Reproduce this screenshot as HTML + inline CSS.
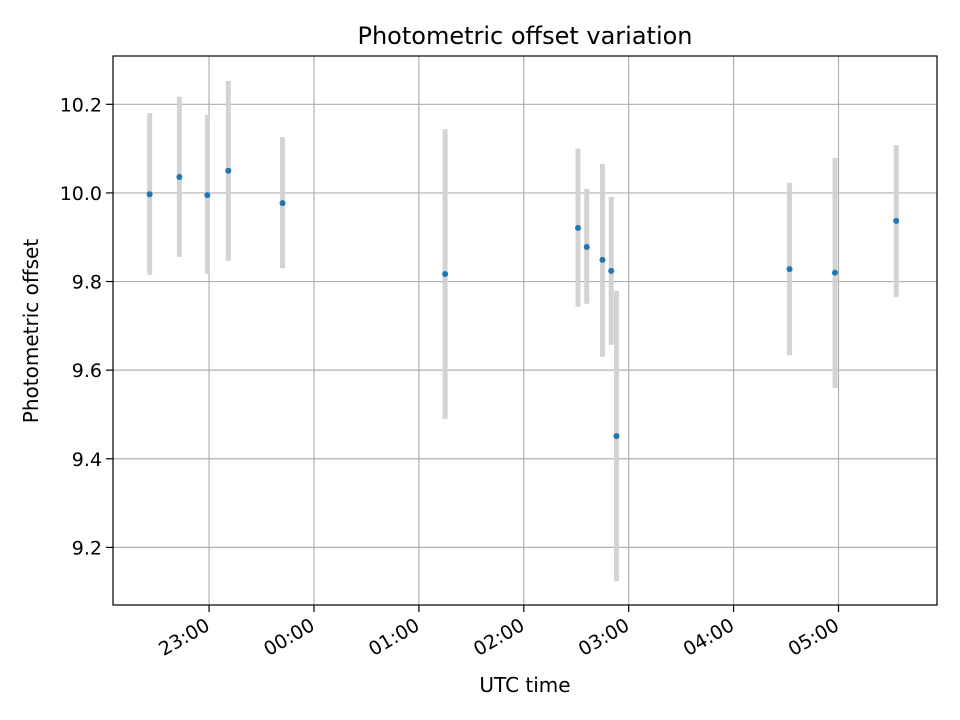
<!DOCTYPE html>
<html><head><meta charset="utf-8"><style>
body{margin:0;background:#fff;}
svg{display:block;font-family:"DejaVu Sans","Liberation Sans",sans-serif;}
</style></head><body>
<svg id="chart" width="960" height="720" viewBox="0 0 960 720" xmlns="http://www.w3.org/2000/svg">
<rect width="960" height="720" fill="#fff"/>
<g id="grid"></g><g id="bars"></g><g id="points"></g>
<rect x="113" y="56" width="824" height="549" fill="none" stroke="#000" stroke-width="1.2"/>
<g id="axes"></g>
<text x="525" y="44" text-anchor="middle" font-size="24">Photometric offset variation</text>
<text x="525" y="692" text-anchor="middle" font-size="20">UTC time</text>
<text transform="translate(38,331) rotate(-90)" text-anchor="middle" font-size="20">Photometric offset</text>
</svg>
<script>
const times=["22:26","22:43","22:59","23:11","23:42","01:15","02:31","02:36","02:45","02:50","02:53","04:32","04:58","05:33"];
const values=[9.997,10.036,9.995,10.05,9.977,9.817,9.921,9.878,9.849,9.824,9.451,9.828,9.82,9.937];
const upper=[10.18,10.217,10.176,10.253,10.126,10.144,10.10,10.009,10.065,9.991,9.779,10.023,10.079,10.108];
const lower=[9.815,9.856,9.817,9.847,9.83,9.49,9.743,9.75,9.63,9.657,9.124,9.634,9.56,9.765];
const xTicks=["23:00","00:00","01:00","02:00","03:00","04:00","05:00"];
const yTicks=[9.2,9.4,9.6,9.8,10.0,10.2];
const NS="http://www.w3.org/2000/svg";
const X0=113,X1=937,Y0=56,Y1=605,H0=-1.916,H1=5.939,V0=9.070,V1=10.309;
function hrs(t){let [h,m]=t.split(":").map(Number);let v=h+m/60;if(v>12)v-=24;return v;}
function sx(t){return X0+(hrs(t)-H0)/(H1-H0)*(X1-X0);}
function sy(v){return Y1-(v-V0)/(V1-V0)*(Y1-Y0);}
function mk(tag,attrs,parent){const e=document.createElementNS(NS,tag);for(const k in attrs)e.setAttribute(k,attrs[k]);document.getElementById(parent).appendChild(e);return e;}
xTicks.forEach(t=>{const x=sx(t);
 let g=mk("line",{x1:x,x2:x,y1:Y0,y2:Y1,stroke:"#b0b0b0","stroke-width":1.2},"grid");
 
 
 let k=mk("line",{x1:x,x2:x,y1:Y1,y2:Y1+7,stroke:"#000","stroke-width":1.2},"axes");
 
 
 let l=mk("text",{transform:`translate(${x+2},${Y1+24}) rotate(-30)`,"text-anchor":"end","font-size":19},"axes");
 l.textContent=t;
 
 
});
yTicks.forEach(v=>{const y=sy(v);
 let g=mk("line",{x1:X0,x2:X1,y1:y,y2:y,stroke:"#b0b0b0","stroke-width":1.2},"grid");
 
 
 let k=mk("line",{x1:X0-7,x2:X0,y1:y,y2:y,stroke:"#000","stroke-width":1.2},"axes");
 
 
 let l=mk("text",{x:X0-11,y:y+7,"text-anchor":"end","font-size":19},"axes");
 l.textContent=v.toFixed(1);
 
 
});
times.forEach((t,i)=>{const x=sx(t);
 let b=mk("line",{x1:x,x2:x,y1:sy(upper[i]),y2:sy(lower[i]),stroke:"#d3d3d3","stroke-width":5},"bars");
 
 
 let p=mk("circle",{cx:x,cy:sy(values[i]),r:3,fill:"#1f77b4"},"points");
 
 
});
</script>
</body></html>
